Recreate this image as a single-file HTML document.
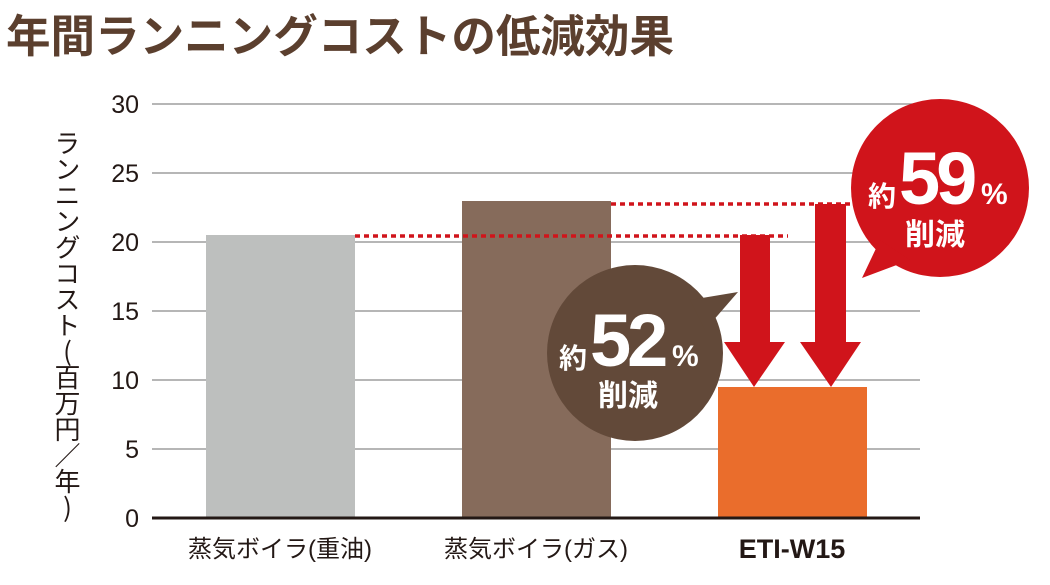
<!DOCTYPE html>
<html><head><meta charset="utf-8"><style>
body{margin:0;background:#fff;position:relative;}
svg text{font-family:"Liberation Sans","Noto Sans CJK JP",sans-serif;}
#yl{position:absolute;left:52px;top:130px;writing-mode:vertical-rl;text-orientation:upright;font-family:"Noto Sans CJK JP",sans-serif;font-size:26px;line-height:30px;color:#231815;letter-spacing:0;}
</style></head><body>
<svg width="1050" height="580" viewBox="0 0 1050 580" xmlns="http://www.w3.org/2000/svg">
<text x="6" y="52" font-size="45" font-weight="bold" fill="#5b3f2e" style="font-family:'Noto Sans CJK JP',sans-serif" textLength="668" lengthAdjust="spacingAndGlyphs">年間ランニングコストの低減効果</text>
<g stroke="#8a8a8a" stroke-width="1.2">
<line x1="152" y1="104" x2="920" y2="104"/><line x1="152" y1="173" x2="920" y2="173"/>
<line x1="152" y1="242" x2="920" y2="242"/><line x1="152" y1="311" x2="920" y2="311"/>
<line x1="152" y1="380" x2="920" y2="380"/><line x1="152" y1="449" x2="920" y2="449"/>
</g>
<g font-size="25" fill="#231815" text-anchor="end">
<text x="139" y="113">30</text><text x="139" y="182">25</text><text x="139" y="251">20</text>
<text x="139" y="320">15</text><text x="139" y="389">10</text><text x="139" y="458">5</text><text x="139" y="527">0</text>
</g>
<rect x="206" y="235" width="149" height="283" fill="#bdbfbe"/>
<rect x="462" y="201" width="149" height="317" fill="#866b5b"/>
<rect x="718" y="387" width="149" height="131" fill="#ea6d2c"/>
<line x1="152" y1="518" x2="920" y2="518" stroke="#231815" stroke-width="3"/>
<line x1="355" y1="236" x2="788" y2="236" stroke="#d0141b" stroke-width="3.5" stroke-dasharray="5,4"/>
<line x1="611" y1="204" x2="853" y2="204" stroke="#d0141b" stroke-width="3.5" stroke-dasharray="5,4"/>
<polygon points="740,235 770,235 770,342 785,342 754,387 724,342 740,342" fill="#d0141b"/>
<polygon points="815,204 846,204 846,342 861,342 831,387 800,342 815,342" fill="#d0141b"/>
<circle cx="940" cy="188" r="89" fill="#d0141b"/>
<polygon points="862,278 880,240 910,260" fill="#d0141b"/>
<circle cx="635" cy="353" r="88" fill="#624939"/>
<polygon points="738,292 690,300 705,330" fill="#624939"/>
<g fill="#fff" font-weight="bold" style="font-family:'Noto Sans CJK JP',sans-serif">
<text x="868" y="206" font-size="28">約</text>
<text x="899" y="204" font-size="74" letter-spacing="-4" style="font-family:'Liberation Sans',sans-serif">59</text>
<text x="981" y="204" font-size="30">%</text>
<text x="905" y="245" font-size="30">削減</text>
<text x="559" y="368" font-size="28">約</text>
<text x="590" y="366" font-size="74" letter-spacing="-4" style="font-family:'Liberation Sans',sans-serif">52</text>
<text x="672" y="366" font-size="30">%</text>
<text x="598" y="406" font-size="30">削減</text>
</g>
<g font-size="24" fill="#231815" text-anchor="middle" style="font-family:'Noto Sans CJK JP',sans-serif">
<text x="280" y="557">蒸気ボイラ(重油)</text>
<text x="536" y="557">蒸気ボイラ(ガス)</text>
<text x="792" y="558" font-size="27" font-weight="bold" style="font-family:'Liberation Sans',sans-serif">ETI-W15</text>
</g>
</svg>
<div id="yl">ランニングコスト(百万円／年)</div>
</body></html>
